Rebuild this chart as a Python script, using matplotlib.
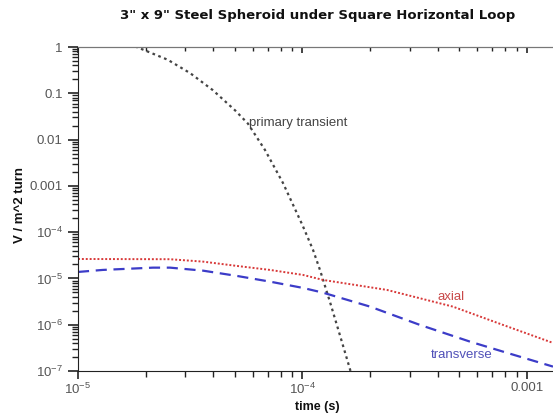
import matplotlib
matplotlib.use("Agg")
import matplotlib.pyplot as plt
from matplotlib.ticker import LogLocator, FixedLocator, FixedFormatter, NullFormatter
import numpy as np

plt.rcParams['font.family'] = ['Liberation Sans', 'DejaVu Sans']
plt.rcParams['mathtext.fontset'] = 'custom'
plt.rcParams['mathtext.rm'] = 'Liberation Sans'
plt.rcParams['mathtext.it'] = 'Liberation Sans:italic'
plt.rcParams['mathtext.bf'] = 'Liberation Sans:bold'

# --- data (log10 values) ---
primary_logt = [-4.745, -4.6, -4.5, -4.4, -4.3, -4.243, -4.167, -4.087, -4.0,
                -3.953, -3.922, -3.878, -3.833, -3.8, -3.78]
primary_logv = [0.012, -0.276, -0.566, -0.93, -1.37, -1.655, -2.225, -2.937, -3.85,
                -4.384, -4.818, -5.5, -6.23, -6.77, -7.1]

axial_logt = [-5.0, -4.59, -4.443, -4.292, -4.145, -3.998, -3.909, -3.624,
              -3.33, -3.107, -2.884]
axial_logv = [-4.58, -4.585, -4.637, -4.73, -4.816, -4.924, -5.032, -5.248,
              -5.609, -6.004, -6.393]

transverse_logt = [-5.0, -4.889, -4.666, -4.59, -4.443, -4.292, -4.145, -3.998,
                   -3.909, -3.699, -3.477, -3.254, -3.107, -2.884]
transverse_logv = [-4.86, -4.816, -4.767, -4.767, -4.832, -4.946, -5.069, -5.205,
                   -5.307, -5.609, -6.004, -6.365, -6.581, -6.905]

xtick_vals = [1e-5, 1e-4, 1e-3]
xtick_labels = [r'$10^{-5}$', r'$10^{-4}$', '0.001']
ytick_vals = [1, 0.1, 0.01, 0.001, 1e-4, 1e-5, 1e-6, 1e-7]
ytick_labels = ['1', '0.1', '0.01', '0.001', r'$10^{-4}$', r'$10^{-5}$',
                r'$10^{-6}$', r'$10^{-7}$']

W, H = 553, 417
fig = plt.figure(figsize=(W / 100, H / 100), dpi=100)
ax = fig.add_axes([78 / W, (H - 371) / H, (W - 78) / W, (371 - 47) / H])

ax.set_xscale('log')
ax.set_yscale('log')
ax.set_xlim(1e-5, 10 ** -2.884)
ax.set_ylim(1e-7, 1)

ax.plot(10 ** np.array(primary_logt), 10 ** np.array(primary_logv),
        color='#444444', lw=1.6, ls=(0, (1.2, 1.6)))
ax.plot(10 ** np.array(axial_logt), 10 ** np.array(axial_logv),
        color='#d83838', lw=1.4, ls=(0, (1.0, 1.0)))
ax.plot(10 ** np.array(transverse_logt), 10 ** np.array(transverse_logv),
        color='#3c3cc8', lw=1.6, ls=(0, (5, 3)))

ax.text(5.75e-5, 10 ** -1.64, 'primary transient', fontsize=9.5, color='#444444',
        ha='left', va='center')
ax.text(10 ** -3.34, 10 ** -5.40, 'axial', fontsize=9.5, color='#c84848',
        ha='center', va='center')
ax.text(10 ** -3.29, 10 ** -6.66, 'transverse', fontsize=9.5, color='#5050b8',
        ha='center', va='center')

ax.spines['right'].set_visible(False)
ax.spines['top'].set_color('#777777')
ax.spines['left'].set_color('#222222')
ax.spines['bottom'].set_color('#222222')

ax.xaxis.set_major_locator(FixedLocator(xtick_vals))
ax.xaxis.set_major_formatter(FixedFormatter(xtick_labels))
ax.xaxis.set_minor_locator(LogLocator(base=10, subs=np.arange(2, 10), numticks=100))
ax.xaxis.set_minor_formatter(NullFormatter())
ax.yaxis.set_major_locator(FixedLocator(ytick_vals))
ax.yaxis.set_major_formatter(FixedFormatter(ytick_labels))
ax.yaxis.set_minor_locator(LogLocator(base=10, subs=np.arange(2, 10), numticks=100))
ax.yaxis.set_minor_formatter(NullFormatter())

ax.tick_params(axis='x', which='major', direction='out', length=6, width=1.2,
               color='#222222', labelsize=9.5, labelcolor='#555555', pad=2,
               top=False)
ax.tick_params(axis='x', which='minor', direction='out', length=4, width=1.0,
               color='#222222', top=False)
ax.tick_params(axis='y', which='major', direction='out', length=7.5, width=1.2,
               color='#222222', labelsize=9.5, labelcolor='#555555', pad=3.5,
               right=False)
ax.tick_params(axis='y', which='minor', direction='out', length=4, width=1.0,
               color='#222222', right=False)

sec = ax.secondary_xaxis('top')
sec.xaxis.set_major_locator(FixedLocator(xtick_vals))
sec.xaxis.set_minor_locator(LogLocator(base=10, subs=np.arange(2, 10), numticks=100))
sec.xaxis.set_major_formatter(NullFormatter())
sec.xaxis.set_minor_formatter(NullFormatter())
sec.tick_params(which='major', direction='in', length=4.5, width=1.2, color='#222222')
sec.tick_params(which='minor', direction='in', length=3, width=1.0, color='#222222')
sec.spines['top'].set_color('#777777')

fig.text(317 / W, 1 - 407 / H, 'time (s)', fontsize=9, fontweight='bold',
         ha='center', va='center', color='#111111')
fig.text(20 / W, 1 - 205 / H, 'V / m^2 turn', fontsize=9.5, fontweight='bold',
         ha='center', va='center', rotation=90, color='#111111')

fig.text(318 / W, 1 - 16 / H, '3" x 9" Steel Spheroid under Square Horizontal Loop',
         ha='center', va='center', fontsize=9.5, fontweight='bold', color='#111111',
         family='DejaVu Sans')

fig.savefig('out.png', dpi=100)
